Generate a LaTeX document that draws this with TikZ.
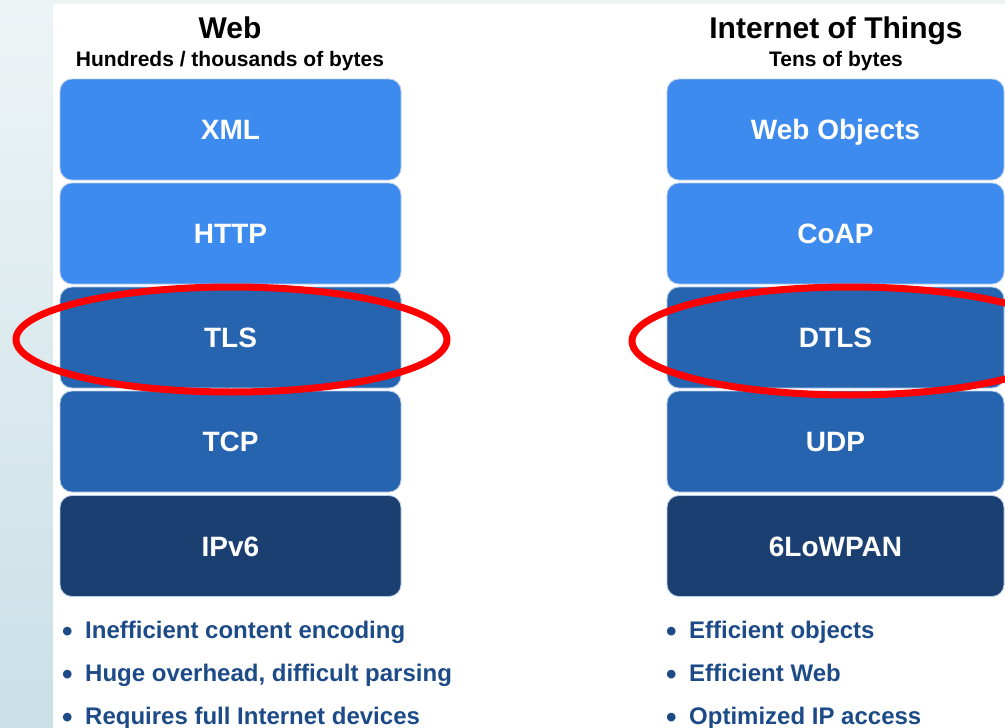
\documentclass[tikz,border=0pt]{standalone}
\usepackage{fontspec}
\setmainfont{Liberation Sans}
\usetikzlibrary{shapes.geometric}
\definecolor{lightblk}{HTML}{3D8BEF}
\definecolor{midblk}{HTML}{2764B0}
\definecolor{darkblk}{HTML}{1B3F71}
\definecolor{boxedge}{HTML}{B4CCEA}
\definecolor{bullettext}{HTML}{1D4B88}
\definecolor{stripTop}{HTML}{EEF4F6}
\definecolor{stripBot}{HTML}{C9E0E7}
\tikzset{
  layerbox/.style={rounded corners=12pt, minimum height=101pt, inner sep=0pt,
    text=white, font=\bfseries\fontsize{28}{33}\selectfont,
    text height=20pt, text depth=0pt, draw=boxedge, line width=0.8pt},
  leftcol/.style={layerbox, minimum width=341pt},
  rightcol/.style={layerbox, minimum width=337pt},
  coltitle/.style={anchor=base, inner sep=0pt, font=\bfseries\fontsize{30}{36}\selectfont},
  colsub/.style={anchor=base, inner sep=0pt, font=\bfseries\fontsize{21}{25}\selectfont},
  bulletline/.style={anchor=base west, inner sep=0pt, text=bullettext, font=\bfseries\fontsize{24}{28}\selectfont},
  ring/.style={ellipse, draw=red, line width=7pt, inner sep=0pt}
}
\newcommand{\bigdot}{\makebox[23pt][l]{\raisebox{-3.2pt}{\scalebox{1.25}{•}}}}
\begin{document}
\begin{tikzpicture}[x=1pt,y=-1pt]
\useasboundingbox (0,0) rectangle (1005,728);
\clip (0,0) rectangle (1005,728);
% background
\fill[stripTop] (0,0) rectangle (1005,4);
\shade[top color=stripTop, bottom color=stripBot] (0,0) rectangle (53,728);
\fill[white] (53,4) rectangle (1005,728);
% titles
\node[coltitle] (webtitle) at (230,38) {Web};
\node[colsub] (websub) at (230,66) {Hundreds / thousands of bytes};
\node[coltitle] (iottitle) at (836,38) {Internet of Things};
\node[colsub] (iotsub) at (836,66) {Tens of bytes};
% left stack
\node[leftcol, fill=lightblk] (xml) at (230.5,129.5) {XML};
\node[leftcol, fill=lightblk] (http) at (230.5,233.5) {HTTP};
\node[leftcol, fill=midblk] (tls) at (230.5,337.5) {TLS};
\node[leftcol, fill=midblk] (tcp) at (230.5,441.5) {TCP};
\node[leftcol, fill=darkblk] (ipv6) at (230.5,546) {IPv6};
% right stack
\node[rightcol, fill=lightblk] (webobj) at (835.5,129.5) {Web Objects};
\node[rightcol, fill=lightblk] (coap) at (835.5,233.5) {CoAP};
\node[rightcol, fill=midblk] (dtls) at (835.5,337.5) {DTLS};
\node[rightcol, fill=midblk] (udp) at (835.5,441.5) {UDP};
\node[rightcol, fill=darkblk] (lowpan) at (835.5,546) {6LoWPAN};
% bullets
\node[bulletline] (lb1) at (62,638) {\bigdot Inefficient content encoding};
\node[bulletline] (lb2) at (62,681) {\bigdot Huge overhead, difficult parsing};
\node[bulletline] (lb3) at (62,724) {\bigdot Requires full Internet devices};
\node[bulletline] (rb1) at (666,638) {\bigdot Efficient objects};
\node[bulletline] (rb2) at (666,681) {\bigdot Efficient Web};
\node[bulletline] (rb3) at (666,724) {\bigdot Optimized IP access};
% highlight rings
\node[ring, minimum width=431pt, minimum height=105pt] (ringleft) at (231.5,339.5) {};
\node[ring, minimum width=436pt, minimum height=108pt] (ringright) at (850,341) {};
\end{tikzpicture}
\end{document}
